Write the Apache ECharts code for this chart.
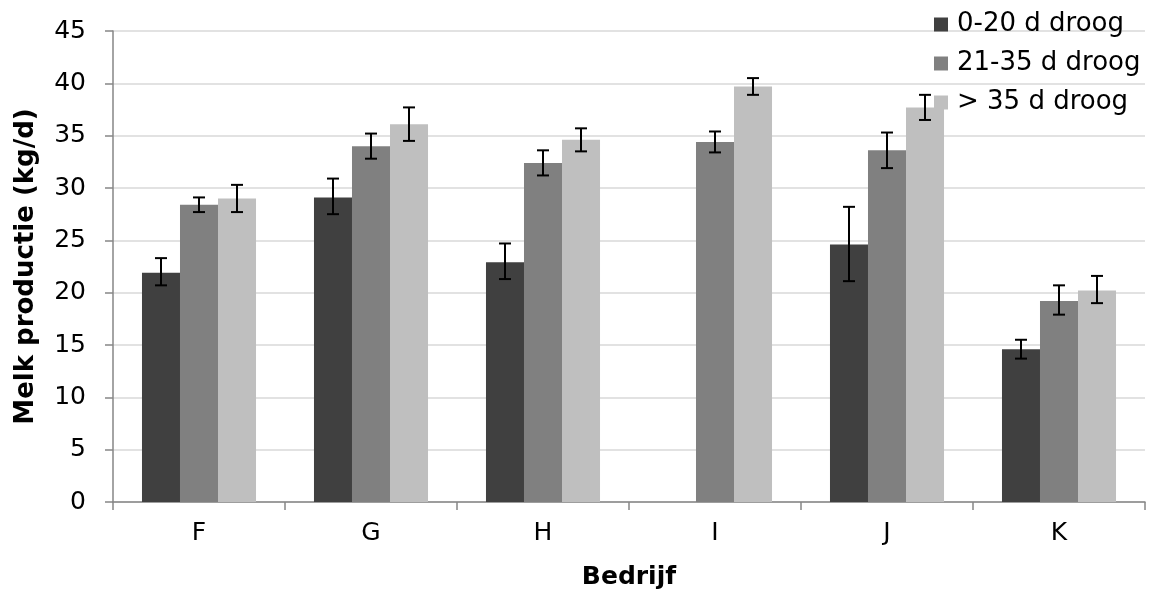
<!DOCTYPE html>
<html>
<head>
<meta charset="utf-8">
<script src="https://cdn.jsdelivr.net/npm/echarts@6/dist/echarts.min.js"></script>
<style>
  html, body { margin: 0; padding: 0; background: #fff; }
  #chart { width: 1158px; height: 599px; }
</style>
</head>
<body>
<div id="chart"></div>
<script>
// Melkproductie per bedrijf, naar lengte van de droogstand
const categories = ['F', 'G', 'H', 'I', 'J', 'K'];
const seriesNames = ['0-20 d droog', '21-35 d droog', '> 35 d droog'];

const mean0_20  = [21.9, 29.1, 22.9, null, 24.6, 14.6];
const mean21_35 = [28.4, 34.0, 32.4, 34.4, 33.6, 19.2];
const mean35    = [29.0, 36.1, 34.6, 39.7, 37.7, 20.2];

// error bar ranges [low, high]
const err0_20  = [[20.7, 23.3], [27.5, 30.9], [21.3, 24.7], null, [21.1, 28.2], [13.7, 15.5]];
const err21_35 = [[27.7, 29.1], [32.8, 35.2], [31.2, 33.6], [33.4, 35.4], [31.9, 35.3], [17.9, 20.7]];
const err35    = [[27.7, 30.3], [34.5, 37.7], [33.5, 35.7], [38.9, 40.5], [36.5, 38.9], [19.0, 21.6]];

const yTicks = { min: 0, max: 45, interval: 5 };

const colors = ['#404040', '#808080', '#bfbfbf'];
const means = [mean0_20, mean21_35, mean35];
const errs = [err0_20, err21_35, err35];
const CAT_GAP = 0.337;
const FONT = '"DejaVu Sans", Verdana, sans-serif';

function errorSeries(idx) {
  const data = errs[idx].map((e, i) => e ? [i, e[0], e[1]] : [i, null, null]);
  return {
    type: 'custom',
    name: seriesNames[idx] + ' err',
    z: 5,
    silent: true,
    data: data,
    encode: { x: 0, y: [1, 2] },
    renderItem: function (params, api) {
      const lo = api.value(1), hi = api.value(2);
      if (lo === null || hi === null || isNaN(lo) || isNaN(hi)) return;
      const band = api.size([1, 0])[0];
      const barW = band * (1 - CAT_GAP) / 3;
      const off = (idx - 1) * barW;
      const pLo = api.coord([api.value(0), lo]);
      const pHi = api.coord([api.value(0), hi]);
      const x = pLo[0] + off;
      const cap = 6;
      const style = { stroke: '#000', lineWidth: 2, fill: null };
      return {
        type: 'group',
        children: [
          { type: 'line', shape: { x1: x, y1: pLo[1], x2: x, y2: pHi[1] }, style: style },
          { type: 'line', shape: { x1: x - cap, y1: pHi[1], x2: x + cap, y2: pHi[1] }, style: style },
          { type: 'line', shape: { x1: x - cap, y1: pLo[1], x2: x + cap, y2: pLo[1] }, style: style }
        ]
      };
    }
  };
}

const barSeries = means.map((m, idx) => ({
  type: 'bar',
  name: seriesNames[idx],
  data: m,
  barGap: '0%',
  barCategoryGap: (CAT_GAP * 100) + '%',
  itemStyle: { color: colors[idx] },
  z: 2
}));

const chart = echarts.init(document.getElementById('chart'));
chart.setOption({
  animation: false,
  backgroundColor: '#fff',
  textStyle: { fontFamily: FONT },
  grid: { left: 113, right: 13, top: 31, bottom: 97, containLabel: false },
  legend: {
    data: seriesNames,
    orient: 'vertical',
    left: 934,
    top: 10,
    padding: 0,
    itemWidth: 14,
    itemHeight: 14,
    itemGap: 10,
    icon: 'rect',
    textStyle: { fontSize: 26, lineHeight: 29, color: '#000', fontFamily: FONT, padding: [0, 0, 0, 4] }
  },
  xAxis: {
    type: 'category',
    data: categories,
    name: 'Bedrijf',
    nameLocation: 'middle',
    nameGap: 63,
    nameTextStyle: { fontSize: 25, fontWeight: 'bold', color: '#000', fontFamily: FONT },
    axisLine: { lineStyle: { color: '#868686', width: 1.5 } },
    axisTick: { show: true, length: 8, lineStyle: { color: '#868686', width: 1.5 } },
    axisLabel: { fontSize: 25, color: '#000', margin: 19, fontFamily: FONT },
    splitLine: { show: false }
  },
  yAxis: {
    type: 'value',
    min: yTicks.min,
    max: yTicks.max,
    interval: yTicks.interval,
    name: 'Melk productie (kg/d)',
    nameLocation: 'middle',
    nameGap: 74,
    nameTextStyle: { fontSize: 26, fontWeight: 'bold', color: '#000', fontFamily: FONT },
    axisLine: { show: true, lineStyle: { color: '#868686', width: 1.5 } },
    axisTick: { show: true, length: 8, lineStyle: { color: '#868686', width: 1.5 } },
    axisLabel: { fontSize: 25, color: '#000', margin: 27, fontFamily: FONT },
    splitLine: { show: true, lineStyle: { color: '#d9d9d9', width: 1.5 } }
  },
  series: barSeries.concat([errorSeries(0), errorSeries(1), errorSeries(2)])
});
</script>
</body>
</html>
